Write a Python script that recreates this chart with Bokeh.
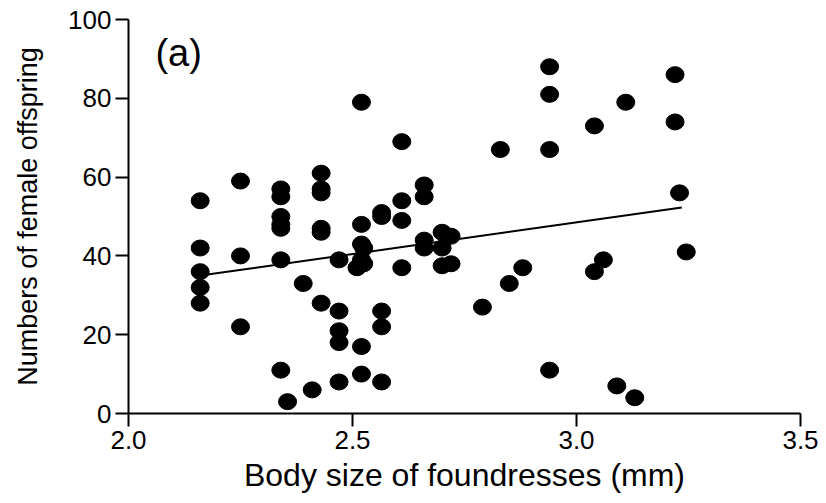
from bokeh.plotting import figure
from bokeh.models import ColumnDataSource, Range1d, Label, FixedTicker
from bokeh.embed import file_html
from bokeh.resources import INLINE

# Body size of foundresses (mm) and numbers of female offspring
body_size = [
    2.16, 2.16, 2.16, 2.16, 2.16,
    2.25, 2.25, 2.25,
    2.34, 2.34, 2.34, 2.34, 2.34, 2.34, 2.34,
    2.355, 2.39, 2.41,
    2.43, 2.43, 2.43, 2.43, 2.43, 2.43,
    2.47, 2.47, 2.47, 2.47, 2.47,
    2.52, 2.52, 2.52, 2.52, 2.52, 2.52,
    2.51, 2.525, 2.525,
    2.565, 2.565, 2.565, 2.565, 2.565,
    2.61, 2.61, 2.61, 2.61,
    2.66, 2.66, 2.66, 2.66,
    2.70, 2.70, 2.70,
    2.72, 2.72,
    2.79, 2.83, 2.85, 2.88,
    2.94, 2.94, 2.94, 2.94,
    3.04, 3.04, 3.06, 3.09, 3.11, 3.13,
    3.22, 3.22, 3.23, 3.245,
]
female_offspring = [
    54, 42, 36, 32, 28,
    59, 40, 22,
    57, 55, 50, 48, 47, 39, 11,
    3, 33, 6,
    61, 57, 56, 47, 46, 28,
    39, 26, 21, 18, 8,
    79, 48, 43, 39, 17, 10,
    37, 42, 38,
    51, 50, 26, 22, 8,
    69, 54, 49, 37,
    58, 55, 44, 42,
    46, 42, 37.5,
    45, 38,
    27, 67, 33, 37,
    88, 81, 67, 11,
    73, 36, 39, 7, 79, 4,
    86, 74, 56, 41,
]

# Regression line end points
fit_x = [2.16, 3.235]
fit_y = [35.0, 52.3]

x_ticks = [2.0, 2.5, 3.0, 3.5]
y_ticks = [0, 20, 40, 60, 80, 100]

FONT = "Liberation Sans"

p = figure(
    width=826, height=503,
    output_backend="svg", toolbar_location=None,
    x_range=Range1d(2.0, 3.5), y_range=Range1d(0, 100),
    min_border_left=128, min_border_right=26,
    min_border_top=19, min_border_bottom=90,
)
p.outline_line_color = None
p.xgrid.visible = False
p.ygrid.visible = False
p.background_fill_color = "white"
p.border_fill_color = "white"

src = ColumnDataSource(dict(x=body_size, y=female_offspring))
p.ellipse(x="x", y="y", width=18, height=16, width_units="screen",
          height_units="screen", source=src,
          fill_color="black", line_color="black")
p.line(fit_x, fit_y, line_color="black", line_width=2)

for ax in (p.xaxis[0], p.yaxis[0]):
    ax.axis_line_width = 2
    ax.axis_line_color = "black"
    ax.major_tick_line_width = 2
    ax.major_tick_line_color = "black"
    ax.major_tick_out = 13
    ax.major_tick_in = 0
    ax.minor_tick_out = 0
    ax.minor_tick_in = 0
    ax.major_label_text_font = FONT
    ax.major_label_text_font_size = "26px"
    ax.major_label_text_color = "black"
    ax.axis_label_text_font = FONT
    ax.axis_label_text_font_style = "normal"
    ax.axis_label_text_color = "black"

p.xaxis.ticker = FixedTicker(ticks=x_ticks)
p.yaxis.ticker = FixedTicker(ticks=y_ticks)
p.xaxis.major_label_overrides = {t: f"{t:.1f}" for t in x_ticks}
p.xaxis.axis_label = "Body size of foundresses (mm)"
p.yaxis.axis_label = "Numbers of female offspring"
p.xaxis.axis_label_text_font_size = "32px"
p.yaxis.axis_label_text_font_size = "27px"
p.xaxis.major_label_standoff = 4
p.yaxis.major_label_standoff = 4
p.xaxis.axis_label_standoff = 5
p.yaxis.axis_label_standoff = 22

p.add_layout(Label(x=2.06, y=91.6, text="(a)", text_font=FONT,
                   text_font_size="38px", text_baseline="middle",
                   text_color="black"))

open("out.html", "w").write(file_html(p, INLINE))
